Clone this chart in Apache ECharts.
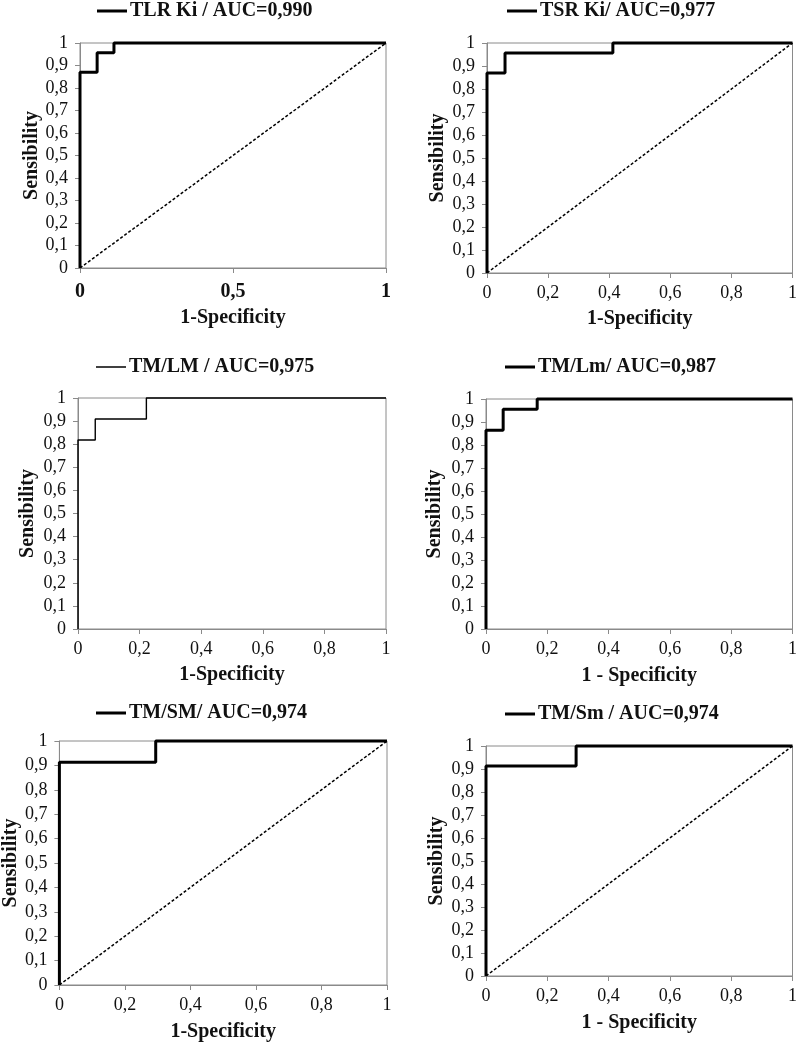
<!DOCTYPE html>
<html>
<head>
<meta charset="utf-8">
<script src="https://cdn.jsdelivr.net/npm/echarts@6/dist/echarts.min.js"></script>
<style>
html,body{margin:0;padding:0;background:#fff;}
#c{width:800px;height:1043px;}
</style>
</head>
<body>
<div id="c"></div>
<script>
// ---- data ----
const titles = ['TLR Ki / AUC=0,990', 'TSR Ki/ AUC=0,977', 'TM/LM / AUC=0,975', 'TM/Lm/ AUC=0,987', 'TM/SM/ AUC=0,974', 'TM/Sm / AUC=0,974'];
const xNames = ['1-Specificity', '1-Specificity', '1-Specificity', '1 - Specificity', '1-Specificity', '1 - Specificity'];
const yName = 'Sensibility';
const rocTLRKi = [[0,0],[0,0.87],[0.056,0.87],[0.056,0.957],[0.111,0.957],[0.111,1],[1,1]];
const rocTSRKi = [[0,0],[0,0.87],[0.059,0.87],[0.059,0.957],[0.412,0.957],[0.412,1],[1,1]];
const rocTMLM  = [[0,0],[0,0.818],[0.056,0.818],[0.056,0.909],[0.222,0.909],[0.222,1],[1,1]];
const rocTMLm  = [[0,0],[0,0.864],[0.056,0.864],[0.056,0.955],[0.167,0.955],[0.167,1],[1,1]];
const rocTMSM  = [[0,0],[0,0.913],[0.294,0.913],[0.294,1],[1,1]];
const rocTMSm  = [[0,0],[0,0.913],[0.294,0.913],[0.294,1],[1,1]];
const diagonal = [[0,0],[1,1]];
const hasDiagonal = [true, true, false, false, true, true];
const xTickStep = [0.5, 0.2, 0.2, 0.2, 0.2, 0.2];
const yTickStep = 0.1;

// ---- layout / style ----
const curves = [rocTLRKi, rocTSRKi, rocTMLM, rocTMLm, rocTMSM, rocTMSm];
const grids = [
  {left:80, top:43, width:306, height:225},
  {left:487, top:43, width:307, height:230},
  {left:78, top:398, width:308, height:231},
  {left:486, top:399, width:307, height:230},
  {left:49, top:741, width:338, height:244},
  {left:486, top:746, width:307, height:230}
];
const legendPos = [
  {left:97, top:1}, {left:507, top:1},
  {left:96, top:357}, {left:505, top:357},
  {left:96, top:703}, {left:505, top:704}
];
const curveWidth = [3, 3, 1.4, 3, 3, 3];
const xNameGap = [40, 36, 36, 37, 37, 37];
const yNameGap = [37, 39, 40, 41, 27, 39];
const FONT = '"Liberation Serif", "Times New Roman", serif';
const fmt = v => String(+v.toFixed(2)).replace('.', ',');

const option = {
  animation: false,
  backgroundColor: '#fff',
  grid: [], xAxis: [], yAxis: [], series: [], legend: []
};

for (let i = 0; i < 6; i++) {
  option.grid.push(Object.assign({show: true, borderColor: '#8a8a8a', borderWidth: 1, backgroundColor: 'transparent'}, grids[i]));
  const boldX = i === 0;
  option.xAxis.push({
    type: 'value', gridIndex: i, min: 0, max: 1, interval: xTickStep[i],
    name: xNames[i], nameLocation: 'middle', nameGap: xNameGap[i],
    nameTextStyle: {fontFamily: FONT, fontWeight: 'bold', fontSize: 20, color: '#111'},
    axisLine: {show: true, lineStyle: {color: '#8a8a8a', width: 1}},
    axisTick: {show: true, length: 5, lineStyle: {color: '#8a8a8a'}},
    axisLabel: {fontFamily: FONT, fontSize: boldX ? 20 : 18, fontWeight: boldX ? 'bold' : 'normal', color: '#111', margin: boldX ? 14 : 11, formatter: fmt},
    splitLine: {show: false}
  });
  option.yAxis.push({
    type: 'value', gridIndex: i, min: 0, max: 1, interval: yTickStep,
    name: yName, nameLocation: 'middle', nameGap: yNameGap[i], nameRotate: 90,
    nameTextStyle: {fontFamily: FONT, fontWeight: 'bold', fontSize: 20, color: '#111'},
    axisLine: {show: true, lineStyle: {color: '#8a8a8a', width: 1}},
    axisTick: {show: true, length: 5, lineStyle: {color: '#8a8a8a'}},
    axisLabel: {fontFamily: FONT, fontSize: 18, color: '#111', margin: 12, formatter: fmt},
    splitLine: {show: false}
  });
  option.series.push({
    name: titles[i], type: 'line', xAxisIndex: i, yAxisIndex: i,
    data: curves[i], showSymbol: false, symbol: 'none', clip: false,
    lineStyle: {color: '#000', width: curveWidth[i]}, itemStyle: {color: '#000'}, z: 3
  });
  if (hasDiagonal[i]) {
    option.series.push({
      name: 'diag' + i, type: 'line', xAxisIndex: i, yAxisIndex: i,
      data: diagonal, showSymbol: false, symbol: 'none',
      lineStyle: {color: '#000', width: 1.5, type: [3, 2]}, z: 2
    });
  }
  option.legend.push(Object.assign({
    data: [{name: titles[i], icon: 'rect'}],
    itemWidth: 30, itemHeight: curveWidth[i] >= 2 ? 3 : 1.5, padding: 0,
    selectedMode: false,
    textStyle: {fontFamily: FONT, fontWeight: 'bold', fontSize: 20, color: '#111', padding: [0,0,0,-2]}
  }, legendPos[i]));
}

const chart = echarts.init(document.getElementById('c'), null, {renderer: 'canvas'});
chart.setOption(option);
</script>
</body>
</html>
